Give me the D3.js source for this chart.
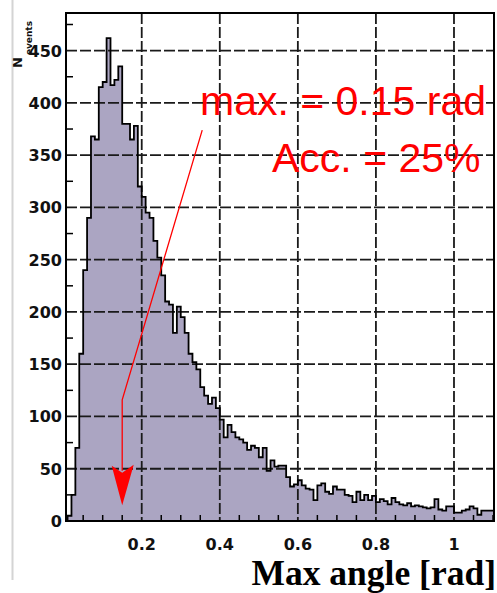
<!DOCTYPE html>
<html>
<head>
<meta charset="utf-8">
<script src="https://cdn.jsdelivr.net/npm/d3@7/dist/d3.min.js"></script>
<style>
  html, body { margin: 0; padding: 0; background: #fff; }
  svg { display: block; }
</style>
</head>
<body>
<svg id="chart" width="497" height="593"></svg>
<script>
// Histogram of the maximum angle, 0.01 rad bins starting at 0
const binStart = 0;
const binWidth = 0.01;
const counts = [
  0, 5, 25, 70, 160, 240, 290, 368, 365, 415,
  420, 462, 417, 422, 435, 380, 380, 365, 378, 320,
  310, 295, 290, 268, 252, 235, 210, 207, 180, 205,
  195, 180, 160, 152, 145, 128, 120, 112, 118, 108,
  97, 80, 92, 85, 80, 78, 75, 68, 72, 70,
  61, 70, 48, 58, 52, 53, 53, 42, 33, 35,
  39, 34, 31, 30, 20, 34, 36, 28, 26, 33,
  30, 30, 25, 24, 18, 28, 20, 25, 20, 24,
  18, 21, 19, 16, 22, 18, 16, 15, 17, 14,
  15, 14, 13, 12, 13, 21, 11, 10, 14, 14,
  8, 8, 10, 11, 14, 12, 6, 10, 10, 10
];

// Axes
const xDomain = [0.006, 1.1025];
const yDomain = [0, 486];
const xGridTicks = [0.2, 0.4, 0.6, 0.8, 1.0];
const xTickLabels = ["0.2", "0.4", "0.6", "0.8", "1"];
const xMinorTicks = [0.05, 0.1, 0.15, 0.25, 0.3, 0.35, 0.45, 0.5, 0.55, 0.65, 0.7, 0.75,
                     0.85, 0.9, 0.95, 1.05, 1.1];
const yGridTicks = [50, 100, 150, 200, 250, 300, 350, 400, 450];
const yTickLabels = ["0", "50", "100", "150", "200", "250", "300", "350", "400", "450"];
const yLabelValues = [0, 50, 100, 150, 200, 250, 300, 350, 400, 450];
const yMinorTicks = [25, 75, 125, 175, 225, 275, 325, 375, 425, 475];

// Annotation
const peakAngle = 0.15;
const annotationLines = ["max. = 0.15 rad", "Acc. = 25%"];
const axisTitle = "Max angle [rad]";

const svg = d3.select("#chart");
const plotL = 66, plotR = 494, plotT = 13, plotB = 521;

const x = d3.scaleLinear().domain(xDomain).range([plotL, plotR]);
const y = d3.scaleLinear().domain(yDomain).range([plotB, plotT]);

// Page frame line at the left
svg.append("line")
  .attr("x1", 12.5).attr("x2", 12.5).attr("y1", 0).attr("y2", 580)
  .attr("stroke", "#d4d4d4").attr("stroke-width", 2);

svg.append("defs").append("clipPath").attr("id", "plot")
  .append("rect").attr("x", plotL).attr("y", plotT)
  .attr("width", plotR - plotL).attr("height", plotB - plotT);

const bins = counts.map((c, i) => ({ x0: binStart + i * binWidth, v: c }));
const stepData = bins.concat([{ x0: binStart + counts.length * binWidth, v: counts[counts.length - 1] }]);

const g = svg.append("g").attr("clip-path", "url(#plot)");

g.append("path")
  .datum(stepData)
  .attr("d", d3.area().curve(d3.curveStepAfter)
    .x(d => x(d.x0)).y0(y(0)).y1(d => y(d.v)))
  .attr("fill", "#aba5c2");

// Grid
const gridDash = "11,3";
g.selectAll("line.hgrid").data(yGridTicks).join("line")
  .attr("class", "hgrid")
  .attr("x1", plotL).attr("x2", plotR)
  .attr("y1", d => y(d)).attr("y2", d => y(d))
  .attr("stroke", "#1a1a1a").attr("stroke-width", 1.8)
  .attr("stroke-dasharray", gridDash);
g.selectAll("line.vgrid").data(xGridTicks).join("line")
  .attr("class", "vgrid")
  .attr("x1", d => x(d)).attr("x2", d => x(d))
  .attr("y1", plotT).attr("y2", plotB)
  .attr("stroke", "#1a1a1a").attr("stroke-width", 1.8)
  .attr("stroke-dasharray", gridDash);

// Histogram outline
g.append("path")
  .datum(stepData)
  .attr("d", d3.line().curve(d3.curveStepAfter).x(d => x(d.x0)).y(d => y(d.v)))
  .attr("fill", "none").attr("stroke", "#000").attr("stroke-width", 1.8);

// Minor ticks
svg.selectAll("line.xminor").data(xMinorTicks).join("line")
  .attr("class", "xminor")
  .attr("x1", d => x(d)).attr("x2", d => x(d))
  .attr("y1", plotB).attr("y2", plotB - 6)
  .attr("stroke", "#000").attr("stroke-width", 1.5);
svg.selectAll("line.yminor").data(yMinorTicks).join("line")
  .attr("class", "yminor")
  .attr("x1", plotL).attr("x2", plotL + 7)
  .attr("y1", d => y(d)).attr("y2", d => y(d))
  .attr("stroke", "#000").attr("stroke-width", 1.5);

// Frame
svg.append("path")
  .attr("d", `M${plotL},${plotB}H${plotR}V${plotT}H${plotL}Z`)
  .attr("fill", "none").attr("stroke", "#000").attr("stroke-width", 2);

// Tick labels
svg.selectAll("text.ylab").data(yLabelValues).join("text")
  .attr("class", "ylab")
  .attr("x", 62).attr("y", d => y(d) + 6)
  .attr("text-anchor", "end")
  .attr("font-family", "DejaVu Sans").attr("font-weight", "bold").attr("font-size", 16)
  .attr("fill", "#111")
  .text((d, i) => yTickLabels[i]);

svg.selectAll("text.xlab").data(xGridTicks).join("text")
  .attr("class", "xlab")
  .attr("x", d => x(d)).attr("y", 550)
  .attr("text-anchor", "middle")
  .attr("font-family", "DejaVu Sans").attr("font-weight", "bold").attr("font-size", 16)
  .attr("fill", "#111")
  .text((d, i) => xTickLabels[i]);

// Y axis title: N with subscript "events"
const yt = svg.append("text")
  .attr("transform", "translate(22,68) rotate(-90)")
  .attr("font-family", "DejaVu Sans").attr("font-weight", "bold").attr("fill", "#111");
yt.append("tspan").attr("font-size", 13).text("N");
yt.append("tspan").attr("font-size", 9).attr("dx", 2).attr("dy", 10).text("events");

// X axis title
svg.append("text")
  .attr("x", 496).attr("y", 585)
  .attr("text-anchor", "end")
  .attr("font-family", "Liberation Serif").attr("font-weight", "bold").attr("font-size", 35.5)
  .attr("fill", "#000")
  .text(axisTitle);

// Annotation text
svg.append("text")
  .attr("x", 200).attr("y", 115)
  .attr("font-family", "Liberation Sans").attr("font-size", 41).attr("fill", "#ff0000")
  .text(annotationLines[0]);
svg.append("text")
  .attr("x", 272).attr("y", 172)
  .attr("font-family", "Liberation Sans").attr("font-size", 41).attr("fill", "#ff0000")
  .text(annotationLines[1]);

// Arrow pointing at the peak position
const arrowStart = [0.355, 374];
const arrowBend = [peakAngle, 116];
const arrowTip = [peakAngle, 15];
const headBase = 52;
svg.append("path")
  .attr("d", d3.line()([[x(arrowStart[0]), y(arrowStart[1])], [x(arrowBend[0]), y(arrowBend[1])],
                       [x(arrowTip[0]), y(headBase) + 4]]))
  .attr("fill", "none").attr("stroke", "#ff0000").attr("stroke-width", 1.3);
const tx = x(peakAngle);
svg.append("path")
  .attr("d", `M${tx - 10.5},${y(headBase) - 1}L${tx},${y(headBase) + 6}L${tx + 11.5},${y(headBase) - 2}L${tx},${y(arrowTip[1])}Z`)
  .attr("fill", "#ff0000");
</script>
</body>
</html>
